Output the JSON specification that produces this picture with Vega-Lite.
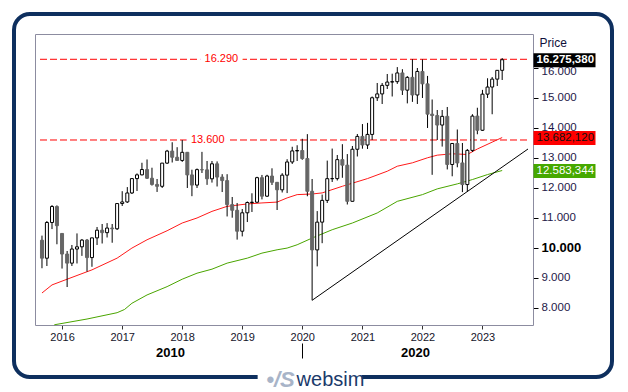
{
  "$schema": "https://vega.github.io/schema/vega-lite/v6.json",
  "width": 598,
  "height": 363,
  "autosize": {"type": "none"},
  "padding": {"left": 14, "top": 14, "right": 16, "bottom": 15},
  "background": "white",
  "view": {"stroke": "#0e2f5e", "strokeWidth": 4, "cornerRadius": 16, "fill": "white", "strokeDash": [1181.3, 104, 3000]},
  "config": {"font": "Liberation Sans", "axis": {"grid": false, "labelFont": "Liberation Sans", "titleFont": "Liberation Sans"}},
  "resolve": {"axis": {"x": "independent", "y": "independent"}},
  "datasets": {
    "ohlc": [
      {"date": "2015-09-01", "open": 10259, "high": 10413, "low": 9325, "close": 9660},
      {"date": "2015-10-01", "open": 9660, "high": 10900, "low": 9400, "close": 10850},
      {"date": "2015-11-01", "open": 10850, "high": 11430, "low": 10630, "close": 11382},
      {"date": "2015-12-01", "open": 11382, "high": 11420, "low": 10124, "close": 10743},
      {"date": "2016-01-01", "open": 10485, "high": 10486, "low": 9314, "close": 9798},
      {"date": "2016-02-01", "open": 9798, "high": 9900, "low": 8699, "close": 9495},
      {"date": "2016-03-01", "open": 9495, "high": 10100, "low": 9400, "close": 9965},
      {"date": "2016-04-01", "open": 9965, "high": 10486, "low": 9484, "close": 10039},
      {"date": "2016-05-01", "open": 10039, "high": 10300, "low": 9737, "close": 10263},
      {"date": "2016-06-01", "open": 10263, "high": 10300, "low": 9214, "close": 9680},
      {"date": "2016-07-01", "open": 9680, "high": 10340, "low": 9373, "close": 10337},
      {"date": "2016-08-01", "open": 10337, "high": 10700, "low": 10100, "close": 10593},
      {"date": "2016-09-01", "open": 10593, "high": 10800, "low": 10150, "close": 10511},
      {"date": "2016-10-01", "open": 10511, "high": 10830, "low": 10350, "close": 10665},
      {"date": "2016-11-01", "open": 10665, "high": 10800, "low": 10175, "close": 10640},
      {"date": "2016-12-01", "open": 10640, "high": 11482, "low": 10600, "close": 11481},
      {"date": "2017-01-01", "open": 11481, "high": 11893, "low": 11400, "close": 11535},
      {"date": "2017-02-01", "open": 11535, "high": 12030, "low": 11500, "close": 11834},
      {"date": "2017-03-01", "open": 11834, "high": 12314, "low": 11800, "close": 12313},
      {"date": "2017-04-01", "open": 12313, "high": 12486, "low": 11900, "close": 12438},
      {"date": "2017-05-01", "open": 12438, "high": 12841, "low": 12420, "close": 12615},
      {"date": "2017-06-01", "open": 12615, "high": 12951, "low": 12300, "close": 12325},
      {"date": "2017-07-01", "open": 12325, "high": 12676, "low": 12080, "close": 12118},
      {"date": "2017-08-01", "open": 12118, "high": 12300, "low": 11868, "close": 12056},
      {"date": "2017-09-01", "open": 12056, "high": 12835, "low": 12000, "close": 12829},
      {"date": "2017-10-01", "open": 12829, "high": 13270, "low": 12800, "close": 13230},
      {"date": "2017-11-01", "open": 13230, "high": 13525, "low": 12850, "close": 13024},
      {"date": "2017-12-01", "open": 13024, "high": 13360, "low": 12910, "close": 12918},
      {"date": "2018-01-01", "open": 12918, "high": 13597, "low": 12870, "close": 13189},
      {"date": "2018-02-01", "open": 13189, "high": 13200, "low": 12000, "close": 12436},
      {"date": "2018-03-01", "open": 12436, "high": 12610, "low": 11727, "close": 12097},
      {"date": "2018-04-01", "open": 12097, "high": 12650, "low": 12000, "close": 12612},
      {"date": "2018-05-01", "open": 12612, "high": 13204, "low": 12500, "close": 12605},
      {"date": "2018-06-01", "open": 12605, "high": 12900, "low": 12104, "close": 12306},
      {"date": "2018-07-01", "open": 12306, "high": 12900, "low": 12180, "close": 12806},
      {"date": "2018-08-01", "open": 12806, "high": 12887, "low": 12050, "close": 12364},
      {"date": "2018-09-01", "open": 12364, "high": 12460, "low": 11865, "close": 12247},
      {"date": "2018-10-01", "open": 12247, "high": 12460, "low": 11051, "close": 11447},
      {"date": "2018-11-01", "open": 11447, "high": 11700, "low": 11010, "close": 11257},
      {"date": "2018-12-01", "open": 11257, "high": 11500, "low": 10279, "close": 10559},
      {"date": "2019-01-01", "open": 10559, "high": 11300, "low": 10386, "close": 11173},
      {"date": "2019-02-01", "open": 11173, "high": 11550, "low": 10865, "close": 11516},
      {"date": "2019-03-01", "open": 11516, "high": 11824, "low": 11200, "close": 11526},
      {"date": "2019-04-01", "open": 11526, "high": 12374, "low": 11500, "close": 12344},
      {"date": "2019-05-01", "open": 12344, "high": 12435, "low": 11620, "close": 11727},
      {"date": "2019-06-01", "open": 11727, "high": 12440, "low": 11700, "close": 12399},
      {"date": "2019-07-01", "open": 12399, "high": 12656, "low": 12100, "close": 12189},
      {"date": "2019-08-01", "open": 12189, "high": 12200, "low": 11266, "close": 11939},
      {"date": "2019-09-01", "open": 11939, "high": 12494, "low": 11850, "close": 12428},
      {"date": "2019-10-01", "open": 12428, "high": 12960, "low": 11830, "close": 12867},
      {"date": "2019-11-01", "open": 12867, "high": 13374, "low": 12800, "close": 13236},
      {"date": "2019-12-01", "open": 13236, "high": 13425, "low": 12900, "close": 13249},
      {"date": "2020-01-01", "open": 13249, "high": 13640, "low": 12940, "close": 12981},
      {"date": "2020-02-01", "open": 12981, "high": 13795, "low": 11725, "close": 11890},
      {"date": "2020-03-01", "open": 11890, "high": 12300, "low": 8256, "close": 9936},
      {"date": "2020-04-01", "open": 9936, "high": 11230, "low": 9387, "close": 10862},
      {"date": "2020-05-01", "open": 10862, "high": 11780, "low": 10160, "close": 11587},
      {"date": "2020-06-01", "open": 11587, "high": 12913, "low": 11500, "close": 12311},
      {"date": "2020-07-01", "open": 12311, "high": 13314, "low": 12200, "close": 12313},
      {"date": "2020-08-01", "open": 12313, "high": 13100, "low": 12250, "close": 12945},
      {"date": "2020-09-01", "open": 12945, "high": 13460, "low": 12340, "close": 12761},
      {"date": "2020-10-01", "open": 12761, "high": 13130, "low": 11450, "close": 11556},
      {"date": "2020-11-01", "open": 11556, "high": 13400, "low": 11550, "close": 13291},
      {"date": "2020-12-01", "open": 13291, "high": 13800, "low": 13050, "close": 13719},
      {"date": "2021-01-01", "open": 13719, "high": 14131, "low": 13310, "close": 13433},
      {"date": "2021-02-01", "open": 13433, "high": 14170, "low": 13300, "close": 13786},
      {"date": "2021-03-01", "open": 13786, "high": 15050, "low": 13600, "close": 15008},
      {"date": "2021-04-01", "open": 15008, "high": 15500, "low": 14900, "close": 15136},
      {"date": "2021-05-01", "open": 15136, "high": 15500, "low": 14800, "close": 15421},
      {"date": "2021-06-01", "open": 15421, "high": 15800, "low": 15300, "close": 15531},
      {"date": "2021-07-01", "open": 15531, "high": 15810, "low": 15050, "close": 15544},
      {"date": "2021-08-01", "open": 15544, "high": 16030, "low": 15470, "close": 15835},
      {"date": "2021-09-01", "open": 15835, "high": 15960, "low": 15100, "close": 15261},
      {"date": "2021-10-01", "open": 15261, "high": 15730, "low": 14820, "close": 15688},
      {"date": "2021-11-01", "open": 15688, "high": 16290, "low": 14870, "close": 15100},
      {"date": "2021-12-01", "open": 15100, "high": 16000, "low": 14800, "close": 15885},
      {"date": "2022-01-01", "open": 15885, "high": 16285, "low": 15000, "close": 15471},
      {"date": "2022-02-01", "open": 15471, "high": 15736, "low": 14000, "close": 14461},
      {"date": "2022-03-01", "open": 14461, "high": 14950, "low": 12439, "close": 14415},
      {"date": "2022-04-01", "open": 14415, "high": 14600, "low": 13600, "close": 14098},
      {"date": "2022-05-01", "open": 14098, "high": 14600, "low": 13380, "close": 14388},
      {"date": "2022-06-01", "open": 14388, "high": 14700, "low": 12618, "close": 12784},
      {"date": "2022-07-01", "open": 12784, "high": 13500, "low": 12390, "close": 13484},
      {"date": "2022-08-01", "open": 13484, "high": 13950, "low": 12690, "close": 12835},
      {"date": "2022-09-01", "open": 12835, "high": 13500, "low": 11862, "close": 12114},
      {"date": "2022-10-01", "open": 12114, "high": 13300, "low": 11870, "close": 13253},
      {"date": "2022-11-01", "open": 13253, "high": 14460, "low": 13200, "close": 14397},
      {"date": "2022-12-01", "open": 14397, "high": 14675, "low": 13791, "close": 13924},
      {"date": "2023-01-01", "open": 13924, "high": 15270, "low": 13900, "close": 15128},
      {"date": "2023-02-01", "open": 15128, "high": 15658, "low": 15000, "close": 15365},
      {"date": "2023-03-01", "open": 15365, "high": 15700, "low": 14458, "close": 15629},
      {"date": "2023-04-01", "open": 15629, "high": 15925, "low": 15400, "close": 15922},
      {"date": "2023-05-01", "open": 15922, "high": 16331, "low": 15600, "close": 16275}
    ],
    "ma": [
      {"s": "red", "date": "2015-09-01", "v": 8500},
      {"s": "red", "date": "2015-11-01", "v": 8769},
      {"s": "red", "date": "2016-02-01", "v": 8960},
      {"s": "red", "date": "2016-07-01", "v": 9271},
      {"s": "red", "date": "2016-12-01", "v": 9662},
      {"s": "red", "date": "2017-03-01", "v": 9997},
      {"s": "red", "date": "2017-06-01", "v": 10274},
      {"s": "red", "date": "2017-10-01", "v": 10575},
      {"s": "red", "date": "2018-01-01", "v": 10833},
      {"s": "red", "date": "2018-04-01", "v": 11000},
      {"s": "red", "date": "2018-07-01", "v": 11221},
      {"s": "red", "date": "2018-10-01", "v": 11388},
      {"s": "red", "date": "2019-02-01", "v": 11468},
      {"s": "red", "date": "2019-05-01", "v": 11502},
      {"s": "red", "date": "2019-08-01", "v": 11530},
      {"s": "red", "date": "2019-10-01", "v": 11669},
      {"s": "red", "date": "2019-12-01", "v": 11779},
      {"s": "red", "date": "2020-03-01", "v": 11800},
      {"s": "red", "date": "2020-05-01", "v": 11836},
      {"s": "red", "date": "2020-09-01", "v": 12057},
      {"s": "red", "date": "2021-02-01", "v": 12314},
      {"s": "red", "date": "2021-06-01", "v": 12559},
      {"s": "red", "date": "2021-08-01", "v": 12726},
      {"s": "red", "date": "2021-11-01", "v": 12839},
      {"s": "red", "date": "2022-02-01", "v": 13007},
      {"s": "red", "date": "2022-04-01", "v": 13094},
      {"s": "red", "date": "2022-07-01", "v": 13140},
      {"s": "red", "date": "2022-10-01", "v": 13117},
      {"s": "red", "date": "2022-12-01", "v": 13300},
      {"s": "red", "date": "2023-03-01", "v": 13528},
      {"s": "red", "date": "2023-05-01", "v": 13682},
      {"s": "green", "date": "2015-11-15", "v": 7440},
      {"s": "green", "date": "2016-06-01", "v": 7632},
      {"s": "green", "date": "2016-12-01", "v": 7843},
      {"s": "green", "date": "2017-01-15", "v": 7950},
      {"s": "green", "date": "2017-03-01", "v": 8157},
      {"s": "green", "date": "2017-06-01", "v": 8435},
      {"s": "green", "date": "2017-10-01", "v": 8712},
      {"s": "green", "date": "2018-01-01", "v": 8960},
      {"s": "green", "date": "2018-04-01", "v": 9160},
      {"s": "green", "date": "2018-07-01", "v": 9294},
      {"s": "green", "date": "2018-10-01", "v": 9495},
      {"s": "green", "date": "2019-02-01", "v": 9662},
      {"s": "green", "date": "2019-05-01", "v": 9829},
      {"s": "green", "date": "2019-08-01", "v": 9940},
      {"s": "green", "date": "2019-10-01", "v": 9997},
      {"s": "green", "date": "2019-12-01", "v": 10107},
      {"s": "green", "date": "2020-03-01", "v": 10331},
      {"s": "green", "date": "2020-07-01", "v": 10609},
      {"s": "green", "date": "2020-11-01", "v": 10833},
      {"s": "green", "date": "2021-04-01", "v": 11167},
      {"s": "green", "date": "2021-08-01", "v": 11555},
      {"s": "green", "date": "2022-01-01", "v": 11779},
      {"s": "green", "date": "2022-04-01", "v": 11970},
      {"s": "green", "date": "2022-08-01", "v": 12137},
      {"s": "green", "date": "2022-11-01", "v": 12281},
      {"s": "green", "date": "2023-02-01", "v": 12448},
      {"s": "green", "date": "2023-05-01", "v": 12583}
    ],
    "trend": [
      {"date": "2020-03-01", "v": 8256},
      {"date": "2023-10-05", "v": 13300}
    ],
    "levels": [
      {"level": 16290, "label": "16.290", "ldate": "2018-08-27"},
      {"level": 13600, "label": "13.600", "ldate": "2018-06-05"}
    ]
  },
  "layer": [
    {
      "data": {"name": "levels"},
      "mark": {"type": "rule", "color": "#ff0000", "strokeDash": [7, 3], "strokeWidth": 1},
      "encoding": {
        "x": {"datum": {"year": 2015, "month": 8, "date": 20}, "type": "temporal", "axis": null,
              "scale": {"domain": [{"year": 2015, "month": 8, "date": 20}, {"year": 2023, "month": 10, "date": 5}], "range": [21, 519]}},
        "x2": {"datum": {"year": 2023, "month": 10, "date": 5}},
        "y": {"field": "level", "type": "quantitative",
              "scale": {"domain": [7433, 17133], "range": [311, 20], "zero": false, "nice": false},
              "axis": {
                "orient": "right", "offset": -79, "values": [16275.38, 13682.12, 12583.344],
                "domain": false, "ticks": true, "tickSize": 62, "tickWidth": 14, "tickRound": false,
                "tickColor": {"condition": [{"test": "datum.value > 16000", "value": "#000000"}, {"test": "datum.value > 13000", "value": "#ff0000"}], "value": "#46a800"},
                "labelExpr": "replace(replace(replace(format(datum.value, ',.3f'), ',', '#'), '.', ','), '#', '.')",
                "labelPadding": -59, "labelFontSize": 11.5, "labelAlign": "left", "labelBaseline": "middle",
                "labelColor": {"condition": {"test": "datum.value > 13000 && datum.value < 14000", "value": "#111111"}, "value": "#ffffff"},
                "labelFontWeight": {"condition": {"test": "datum.value > 16000", "value": "bold"}, "value": "normal"},
                "labelOverlap": false, "labelFlush": false, "labelBound": false, "zindex": 2, "title": null
              }}
      }
    },
    {
      "data": {"name": "levels"},
      "mark": {"type": "text", "fontSize": 11, "fill": "white", "stroke": "white", "strokeWidth": 10, "align": "center", "baseline": "middle"},
      "encoding": {
        "x": {"field": "ldate", "type": "temporal", "axis": null},
        "y": {"field": "level", "type": "quantitative", "axis": null},
        "text": {"field": "label"}
      }
    },
    {
      "data": {"name": "levels"},
      "mark": {"type": "text", "fontSize": 11, "color": "#ff0000", "align": "center", "baseline": "middle"},
      "encoding": {
        "x": {"field": "ldate", "type": "temporal", "axis": null},
        "y": {"field": "level", "type": "quantitative", "axis": null},
        "text": {"field": "label"}
      }
    },
    {
      "data": {"name": "ma"},
      "mark": {"type": "line", "strokeWidth": 1},
      "encoding": {
        "x": {"field": "date", "type": "temporal",
              "axis": {"orient": "bottom", "offset": -34, "values": [{"year": 2020, "month": 1, "date": 1}], "domain": false, "labels": false, "ticks": true, "tickSize": 15, "tickColor": "#000000", "title": null}},
        "y": {"field": "v", "type": "quantitative", "axis": null},
        "color": {"field": "s", "type": "nominal", "scale": {"domain": ["red", "green"], "range": ["#ff1a1a", "#4aa500"]}, "legend": null}
      }
    },
    {
      "data": {"name": "trend"},
      "mark": {"type": "line", "color": "#000000", "strokeWidth": 1},
      "encoding": {
        "x": {"field": "date", "type": "temporal",
              "axis": {"orient": "top", "offset": -20, "domain": true, "domainColor": "#8c8ca0", "ticks": false, "labels": false,
                       "title": "websim", "titleAngle": 0, "titleX": 316, "titleY": 351.5, "titleAlign": "center", "titleBaseline": "alphabetic",
                       "titleFontSize": 20, "titleFontWeight": "normal", "titleColor": "#1b3a6b"}},
        "y": {"field": "v", "type": "quantitative", "axis": null}
      }
    },
    {
      "data": {"name": "ohlc"},
      "mark": {"type": "rule", "color": "#000000", "strokeWidth": 1},
      "encoding": {
        "x": {"field": "date", "type": "temporal",
              "axis": {"orient": "bottom", "offset": -52,
                       "values": [{"year": 2016, "month": 1, "date": 1}, {"year": 2017, "month": 1, "date": 1}, {"year": 2018, "month": 1, "date": 1}, {"year": 2019, "month": 1, "date": 1}, {"year": 2020, "month": 1, "date": 1}, {"year": 2021, "month": 1, "date": 1}, {"year": 2022, "month": 1, "date": 1}, {"year": 2023, "month": 1, "date": 1}],
                       "format": "%Y", "domain": true, "domainColor": "#8c8ca0", "ticks": true, "tickSize": 4, "tickColor": "#333333",
                       "labelPadding": 2, "labelFontSize": 11, "labelColor": "#14142a", "labelOverlap": false, "labelFlush": false, "title": null}},
        "y": {"field": "low", "type": "quantitative",
              "axis": {"orient": "right", "offset": -79, "values": [8000, 9000, 10000, 11000, 12000, 13000, 14000, 15000, 16000],
                       "domain": true, "domainColor": "#8c8ca0", "ticks": true, "tickSize": 5, "tickColor": "#000000",
                       "labelPadding": 3, "labelExpr": "replace(format(datum.value, ','), ',', '.')",
                       "labelFontSize": {"condition": {"test": "datum.value == 10000", "value": 13}, "value": 11.5},
                       "labelFontWeight": {"condition": {"test": "datum.value == 10000", "value": "bold"}, "value": "normal"},
                       "labelColor": {"condition": {"test": "datum.value == 10000", "value": "#000000"}, "value": "#1e1848"},
                       "labelOffset": {"condition": {"test": "datum.value == 16000", "value": 4}, "value": 0},
                       "labelOverlap": false, "labelFlush": false, "labelBound": false,
                       "title": "Price", "titleAngle": 0, "titleX": 6, "titleY": 32, "titleAlign": "left", "titleBaseline": "alphabetic",
                       "titleFontSize": 12, "titleFontWeight": "normal", "titleColor": "#10103a", "zindex": 0}},
        "y2": {"field": "high"}
      }
    },
    {
      "data": {"name": "ohlc"},
      "mark": {"type": "bar", "width": 3, "strokeWidth": 1},
      "encoding": {
        "x": {"field": "date", "type": "temporal",
              "axis": {"orient": "bottom", "offset": -52, "values": [{"year": 2017, "month": 10, "date": 19}, {"year": 2021, "month": 11, "date": 17}],
                       "labelExpr": "year(datum.value) < 2020 ? '2010' : '2020'", "domain": false, "ticks": false,
                       "labelPadding": 21, "labelFontSize": 13, "labelFontWeight": "bold", "labelColor": "#000000",
                       "labelOverlap": false, "labelFlush": false, "title": null}},
        "y": {"field": "open", "type": "quantitative",
              "axis": {"orient": "left", "offset": -21, "domain": true, "domainColor": "#8c8ca0", "ticks": false, "labels": false,
                       "title": "•/S", "titleAngle": 0, "titleX": 245, "titleY": 372, "titleAlign": "center", "titleBaseline": "alphabetic",
                       "titleFontSize": 22, "titleFontStyle": "italic", "titleFontWeight": "bold", "titleColor": "#a8b4c8"}},
        "y2": {"field": "close"},
        "fill": {"condition": {"test": "datum.close < datum.open", "value": "#666666"}, "value": "#ffffff"},
        "stroke": {"condition": {"test": "datum.close < datum.open", "value": "#666666"}, "value": "#000000"}
      }
    }
  ]
}
